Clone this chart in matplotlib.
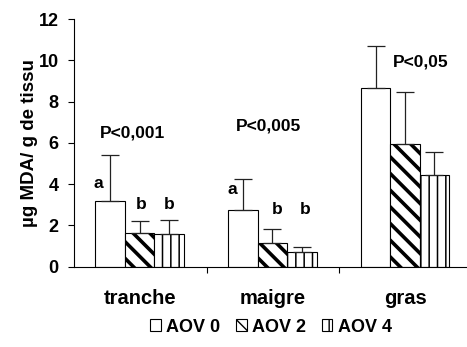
import matplotlib
matplotlib.use("Agg")
import matplotlib.pyplot as plt
import numpy as np

plt.rcParams['font.family'] = ['Liberation Sans', 'DejaVu Sans']
plt.rcParams['font.weight'] = 'bold'

categories = ["tranche", "maigre", "gras"]
series = ["AOV 0", "AOV 2", "AOV 4"]
aov0 = [3.18, 2.73, 8.67]
aov2 = [1.65, 1.13, 5.94]
aov4 = [1.57, 0.70, 4.43]
aov0_err = [2.23, 1.52, 2.02]
aov2_err = [0.55, 0.68, 2.51]
aov4_err = [0.68, 0.24, 1.11]
p_labels = ["P<0,001", "P<0,005", "P<0,05"]
letters = [["a", "b", "b"], ["a", "b", "b"], ["", "", ""]]

W, H = 467, 347
fig = plt.figure(figsize=(W / 100, H / 100), dpi=100)
ax = fig.add_axes([74 / W, 1 - 266.7 / H, 398 / W, (266.7 - 19) / H])

x = np.arange(len(categories))
w = 0.222
hatches = ["", "\\\\", "||"]
hlw = [1.0, 2.6, 1.1]
vals = [aov0, aov2, aov4]
errs = [aov0_err, aov2_err, aov4_err]
handles = []
for k in range(3):
    with plt.rc_context({'hatch.linewidth': hlw[k], 'hatch.color': 'black'}):
        b = ax.bar(x + (k - 1) * w - 0.005, vals[k], w, color='white',
                   edgecolor='black', linewidth=0.8, hatch=hatches[k],
                   label=series[k], zorder=2)
        handles.append(b)
    ax.errorbar(x + (k - 1) * w - 0.005, vals[k],
                yerr=[np.zeros(3), errs[k]], fmt='none', ecolor='#222222',
                elinewidth=0.9, capsize=6.5, capthick=0.9, zorder=3)

ax.set_xlim(-0.5, 2.5)
ax.set_ylim(0, 12)
ax.set_yticks(np.arange(0, 13, 2))
ax.tick_params(axis='y', direction='out', length=4, width=0.8, pad=7,
               labelsize=13)
ax.set_xticks(x)
ax.set_xticklabels(categories, fontsize=14.5, fontweight='bold')
ax.set_xticks([0.5, 1.5], minor=True)
ax.tick_params(axis='x', which='major', length=0, pad=16)
ax.tick_params(axis='x', which='minor', direction='out', length=4, width=0.8)
for s in ['top', 'right']:
    ax.spines[s].set_visible(False)
for s in ['left', 'bottom']:
    ax.spines[s].set_linewidth(0.8)
for lab in ax.get_yticklabels():
    lab.set_fontweight('bold')

ax.set_ylabel("µg MDA/ g de tissu", fontsize=13.5, fontweight='bold')
ax.yaxis.set_label_coords(-(74 - 38) / 398, 0.5)

# P-values
p_pos = [(-0.06, 6.47), (0.963, 6.83), (2.11, 9.93)]
for lab, (px, py) in zip(p_labels, p_pos):
    ax.text(px, py, lab, ha='center', va='center', fontsize=12.5,
            fontweight='bold')

# significance letters
letter_pos = [[(-0.32, 4.04), (0.01, 3.03), (0.22, 3.03)],
              [(0.693, 3.75), (1.028, 2.75), (1.24, 2.75)]]
for gi, grp in enumerate(letter_pos):
    for li, (lx, ly) in enumerate(grp):
        ax.text(lx, ly, letters[gi][li], ha='center', va='center',
                fontsize=12.5, fontweight='bold')

fig.legend(handles=handles, labels=series, loc='center',
           bbox_to_anchor=(271 / W, 1 - 327 / H), ncol=3, frameon=False,
           handlelength=0.6, handleheight=0.6, handletextpad=0.3,
           columnspacing=0.85, prop={'weight': 'bold', 'size': 13})

fig.savefig("out.png", dpi=100)
